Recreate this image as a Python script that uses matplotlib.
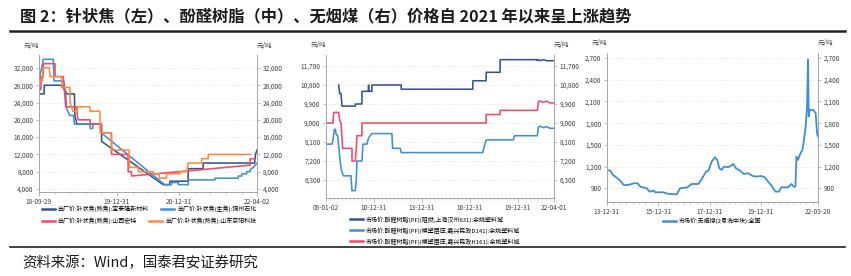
import matplotlib
matplotlib.use('Agg')
import matplotlib.pyplot as plt
import matplotlib.dates as mdates
from matplotlib.lines import Line2D
from matplotlib.ticker import FuncFormatter, FixedLocator
import pandas as pd

plt.rcParams['font.family'] = ['Noto Sans CJK SC', 'DejaVu Sans']
plt.rcParams['axes.unicode_minus'] = False

# ---------------- Panel 1: needle coke ----------------
p1_labels = ['出厂价:针状焦(熟焦):宝泰隆新材料', '出厂价:针状焦(生焦):锦州石化',
             '出厂价:针状焦(熟焦):山西宏特', '出厂价:针状焦(熟焦):山东京阳科技']
p1_xticks = ['2018-09-29', '2019-12-31', '2020-12-31', '2022-04-02']
p1_yticks = [4000, 8000, 12000, 16000, 20000, 24000, 28000, 32000]

btl_dates = ['2018-09-29', '2018-10-29', '2018-10-30', '2019-02-10', '2019-02-25', '2019-03-12',
             '2019-04-25', '2019-04-28', '2019-05-10', '2019-09-30', '2019-10-02', '2020-09-28',
             '2020-11-05', '2020-11-06', '2021-02-21', '2021-02-22', '2021-05-20', '2021-05-21',
             '2022-03-19', '2022-03-24', '2022-04-02']
btl_vals = [26000, 26000, 28000, 28000, 27000, 26000,
            26000, 21000, 19000, 19000, 15000, 5000,
            5000, 5800, 5800, 8700, 8700, 10000,
            10000, 12000, 13000]

jz_dates = ['2018-09-29', '2018-10-06', '2018-10-20', '2018-10-24', '2018-12-22', '2018-12-26',
            '2019-02-20', '2019-03-05', '2019-03-10', '2019-03-30', '2019-04-20', '2019-04-25',
            '2019-07-25', '2019-07-27', '2019-08-10', '2019-08-12', '2019-09-27', '2019-09-29',
            '2020-10-07', '2020-11-15', '2020-11-16', '2020-12-25', '2020-12-26', '2021-02-22',
            '2021-02-23', '2021-07-29', '2021-07-30', '2021-12-13', '2021-12-14', '2022-01-02',
            '2022-01-03', '2022-01-31', '2022-02-01', '2022-02-20', '2022-02-21', '2022-03-12',
            '2022-04-02']
jz_vals = [29000, 30500, 33000, 34000, 34000, 29000,
           29000, 26000, 22500, 21000, 21000, 19000,
           19000, 18000, 18000, 19000, 19000, 17000,
           5000, 5000, 5500, 5500, 5000, 5000,
           6100, 6100, 6500, 6500, 7000, 7000,
           7500, 7500, 8000, 8000, 8500, 9000,
           10000]

sx_dates = ['2018-09-29', '2018-10-10', '2018-10-11', '2018-10-24', '2018-10-25', '2019-01-01',
            '2019-01-02', '2019-02-19', '2019-03-05', '2019-05-08', '2019-05-12', '2019-05-18',
            '2019-07-26', '2019-07-27', '2019-10-01', '2019-10-02', '2019-11-28', '2019-11-29',
            '2020-03-05', '2020-03-06', '2020-03-25', '2020-03-26', '2022-02-20', '2022-02-21',
            '2022-03-21']
sx_vals = [27000, 27000, 30000, 30000, 33000, 33000,
           30000, 30000, 23000, 23000, 21000, 20000,
           20000, 19000, 19000, 17000, 17000, 12000,
           12000, 8000, 8000, 7000, 9500, 11000,
           11000]

sd_dates = ['2018-10-05', '2018-10-20', '2018-10-21', '2018-11-29', '2018-12-03', '2019-02-09',
            '2019-02-10', '2019-03-30', '2019-03-31', '2019-04-15', '2019-05-12', '2019-05-13',
            '2019-07-25', '2019-07-26', '2019-09-22', '2019-09-23', '2019-11-29', '2019-11-30',
            '2020-03-12', '2020-03-13', '2020-05-04', '2020-05-05', '2020-07-31', '2020-08-01',
            '2020-09-04', '2020-09-05', '2020-10-17', '2020-10-18', '2021-01-03', '2021-01-04',
            '2021-02-15', '2021-02-21', '2021-05-11', '2021-05-12', '2021-06-19', '2021-06-20',
            '2022-02-22']
sd_vals = [29000, 29000, 32000, 32000, 30000, 30000,
           27500, 27500, 24000, 22000, 22000, 23000,
           23000, 22000, 22000, 17000, 17000, 13000,
           13000, 9000, 9000, 8000, 8000, 7500,
           7500, 6500, 6500, 7500, 7500, 8000,
           8000, 10000, 10000, 11000, 11000, 12000,
           12000]

# ---------------- Panel 2: phenolic resin ----------------
p2_labels = ['市场价:酚醛树脂(PF)(阻燃,上海汉州631):余姚塑料城',
             '市场价:酚醛树脂(PF)(模塑层压,嘉兴民政D141):余姚塑料城',
             '市场价:酚醛树脂(PF)(模塑层压,嘉兴民政H161):余姚塑料城']
p2_xticks = ['2008-01-02', '2010-12-31', '2013-12-31', '2016-12-31', '2019-12-31', '2022-04-01']
p2_yticks = [6300, 7200, 8100, 9000, 9900, 10800, 11700]

hz_dates = ['2008-10-17', '2008-11-08', '2008-12-09', '2009-01-01', '2009-11-01', '2009-11-02',
            '2010-04-01', '2010-04-02', '2010-08-30', '2010-08-31', '2010-09-01', '2010-11-14',
            '2010-11-15', '2012-09-13', '2012-09-14', '2017-03-05', '2017-03-06', '2018-01-03',
            '2018-01-04', '2018-11-18', '2018-11-19', '2021-03-02', '2021-03-17', '2021-04-09',
            '2021-05-17', '2021-08-01', '2021-10-16', '2021-12-31', '2022-04-01']
hz_vals = [10800, 10400, 10400, 9800, 9800, 9900,
           9900, 10500, 10500, 10800, 10500, 10500,
           10800, 10800, 10600, 10600, 11000, 11000,
           11400, 11400, 12000, 12000, 11950, 12000,
           11950, 12000, 11950, 11950, 11950]

d141_dates = ['2008-01-02', '2008-05-18', '2008-06-10', '2008-07-10', '2008-08-02', '2008-08-24',
              '2008-09-24', '2008-10-17', '2008-11-24', '2009-01-01', '2009-02-08', '2009-07-25',
              '2009-08-16', '2009-10-31', '2009-11-23', '2009-12-08', '2010-04-01', '2010-04-24',
              '2010-07-24', '2010-08-31', '2010-11-15', '2012-02-14', '2012-03-01', '2012-08-22',
              '2012-09-14', '2017-10-19', '2017-11-03', '2018-01-03', '2019-09-18', '2019-10-10',
              '2021-03-17', '2021-04-09', '2021-05-17', '2021-08-01', '2021-10-16', '2021-12-31',
              '2022-04-01']
d141_vals = [8000, 8000, 8200, 8700, 8700, 8450,
             8400, 7900, 7100, 6650, 6500, 6500,
             5800, 5800, 6300, 7200, 7200, 8000,
             8000, 8300, 8500, 8500, 7800, 7800,
             7600, 7600, 7750, 8200, 8200, 8400,
             8400, 8800, 8850, 8780, 8830, 8750,
             8750]

h161_dates = ['2008-01-02', '2008-06-10', '2008-06-25', '2008-10-17', '2008-11-08', '2008-12-09',
              '2009-01-16', '2009-08-17', '2009-08-18', '2009-10-31', '2009-11-23', '2009-12-08',
              '2010-03-31', '2010-04-01', '2018-01-03', '2018-01-04', '2018-11-18', '2018-11-19',
              '2021-03-17', '2021-04-09', '2021-05-17', '2021-08-01', '2021-10-16', '2021-12-31',
              '2022-04-01']
h161_vals = [9000, 9000, 9500, 9500, 9150, 9000,
             7800, 7800, 7200, 7200, 7800, 8400,
             8400, 9000, 9000, 9400, 9400, 9600,
             9600, 10000, 10050, 9980, 10030, 9950,
             9950]

# ---------------- Panel 3: anthracite ----------------
p3_label = '市场价:无烟煤(2号洗中块):全国'
p3_xticks = ['2013-12-31', '2015-12-31', '2017-12-31', '2019-12-31', '2022-03-20']
p3_yticks = [900, 1200, 1500, 1800, 2100, 2400, 2700]

ac_dates = ['2013-12-31', '2014-02-16', '2014-03-26', '2014-04-28', '2014-06-14', '2014-08-01',
            '2014-08-24', '2014-11-03', '2015-01-13', '2015-03-11', '2015-04-18', '2015-07-21',
            '2015-08-28', '2015-10-24', '2015-11-16', '2016-03-13', '2016-05-23', '2016-09-18',
            '2016-11-05', '2017-02-17', '2017-04-19', '2017-07-23', '2017-09-08', '2017-11-08',
            '2017-12-11', '2018-01-28', '2018-03-16', '2018-04-18', '2018-05-16', '2018-06-18',
            '2018-07-22', '2018-09-21', '2018-10-24', '2018-12-01', '2019-01-08', '2019-03-05',
            '2019-05-01', '2019-07-02', '2019-09-01', '2019-10-28', '2019-12-28', '2020-02-23',
            '2020-04-10', '2020-05-27', '2020-07-23', '2020-09-08', '2020-10-16', '2021-01-19',
            '2021-03-07', '2021-04-09', '2021-05-03', '2021-05-17', '2021-06-09', '2021-07-03',
            '2021-08-10', '2021-08-29', '2021-09-26', '2021-10-15', '2021-10-29', '2021-11-08',
            '2021-11-22', '2022-01-08', '2022-02-15', '2022-03-06', '2022-03-20']
ac_vals = [1150, 1145, 1085, 1062, 1025, 978,
           946, 946, 969, 969, 923, 900,
           854, 868, 845, 845, 822, 817,
           900, 914, 960, 960, 1025, 1131,
           1140, 1269, 1329, 1292, 1177, 1154,
           1200, 1191, 1209, 1237, 1177, 1145,
           1098, 1108, 1071, 1062, 1071, 1052,
           992, 937, 854, 854, 914, 914,
           960, 923, 923, 1338, 1292, 1362,
           1431, 1546, 1754, 2031, 2677, 1892,
           1985, 1985, 1938, 1661, 1615]

# ---------------- styling ----------------
C_NAVY = '#34558f'
C_LBLUE = '#3f8fd5'
C_RED = '#ef4a68'
C_ORANGE = '#fd8a3c'
GRAY = '#a6a6a6'
TXT = '#404040'
FS_TICK = 4.7
FS_LEG = 4.3

W, H = 851, 276
fig = plt.figure(figsize=(W / 100, H / 100), dpi=100)


def fbox(l, t, r, b):
    return [l / W, (H - b) / H, (r - l) / W, (b - t) / H]


def style_axes(ax, yticks, ylim, xticks, xlim):
    ax.set_ylim(*ylim)
    ax.set_xlim(pd.Timestamp(xlim[0]), pd.Timestamp(xlim[1]))
    ax.yaxis.set_major_locator(FixedLocator(yticks))
    ax.yaxis.set_major_formatter(FuncFormatter(lambda v, p: f'{v:,.0f}'))
    ax.set_xticks(pd.to_datetime(xticks))
    ax.xaxis.set_major_formatter(mdates.DateFormatter('%y-%m-%d'))
    ax.xaxis.set_minor_locator(mdates.MonthLocator(bymonth=[1, 4, 7, 10]))
    for s in ['left', 'right', 'bottom']:
        ax.spines[s].set_color(GRAY)
        ax.spines[s].set_linewidth(0.7)
    ax.spines['top'].set_visible(False)
    ax.tick_params(axis='y', which='both', left=True, right=True, labelleft=True, labelright=True,
                   direction='out', length=2.5, width=0.5, color=GRAY, labelsize=FS_TICK,
                   labelcolor=TXT, pad=1.5)
    ax.tick_params(axis='x', which='major', direction='out', length=3, width=0.5, color=GRAY,
                   labelsize=FS_TICK, labelcolor=TXT, pad=1.5)
    ax.tick_params(axis='x', which='minor', direction='out', length=1.5, width=0.4, color=GRAY)
    ax.grid(axis='y', color='#d9d9d9', linestyle=(0, (1, 1.5)), linewidth=0.5)
    ax.set_axisbelow(True)
    ax.text(0, 1.04, '元/吨', transform=ax.transAxes, ha='right', va='bottom', fontsize=FS_TICK, color=TXT)
    ax.text(1, 1.04, '元/吨', transform=ax.transAxes, ha='left', va='bottom', fontsize=FS_TICK, color=TXT)


LW = 1.15

# Panel 1
ax1 = fig.add_axes(fbox(39, 55, 257, 192))
l1, = ax1.plot(pd.to_datetime(btl_dates), btl_vals, color=C_NAVY, lw=LW)
l2, = ax1.plot(pd.to_datetime(jz_dates), jz_vals, color=C_LBLUE, lw=LW)
l3, = ax1.plot(pd.to_datetime(sx_dates), sx_vals, color=C_RED, lw=LW)
l4, = ax1.plot(pd.to_datetime(sd_dates), sd_vals, color=C_ORANGE, lw=LW)
style_axes(ax1, p1_yticks, (3300, 35000), p1_xticks, (p1_xticks[0], p1_xticks[-1]))

legkw = dict(frameon=False, fontsize=FS_LEG, handlelength=2.2, handletextpad=0.5,
             borderpad=0, borderaxespad=0, columnspacing=2.0)
lg1 = fig.legend([l1, l2], p1_labels[:2], loc='center', bbox_to_anchor=(149 / W, 1 - 209 / H), ncol=2, **legkw)
for h in lg1.legend_handles:
    h.set_linewidth(1.8)
lg2 = fig.legend([l3, l4], p1_labels[2:], loc='center', bbox_to_anchor=(149 / W, 1 - 221 / H), ncol=2, **legkw)
for h in lg2.legend_handles:
    h.set_linewidth(1.8)

# Panel 2
ax2 = fig.add_axes(fbox(326, 55, 554, 198))
m1, = ax2.plot(pd.to_datetime(hz_dates), hz_vals, color=C_NAVY, lw=LW)
m2, = ax2.plot(pd.to_datetime(d141_dates), d141_vals, color=C_LBLUE, lw=LW)
m3, = ax2.plot(pd.to_datetime(h161_dates), h161_vals, color=C_RED, lw=LW)
style_axes(ax2, p2_yticks, (5450, 12220), p2_xticks, (p2_xticks[0], p2_xticks[-1]))
lg3 = fig.legend([m1, m2, m3], p2_labels, loc='upper left', bbox_to_anchor=(350 / W, 1 - 216 / H),
                 ncol=1, labelspacing=0.75, **legkw)
for h in lg3.legend_handles:
    h.set_linewidth(1.8)

# Panel 3
ax3 = fig.add_axes(fbox(607, 53, 818, 201.7))
n1, = ax3.plot(pd.to_datetime(ac_dates), ac_vals, color=C_LBLUE, lw=1.3)
style_axes(ax3, p3_yticks, (715, 2770), p3_xticks, (p3_xticks[0], p3_xticks[-1]))
lg4 = fig.legend([n1], [p3_label], loc='center', bbox_to_anchor=(712 / W, 1 - 221 / H), ncol=1, **legkw)
for h in lg4.legend_handles:
    h.set_linewidth(1.8)

# Title, separators and source
fig.text(20 / W, 1 - 16 / H, '图 2：针状焦（左）、酚醛树脂（中）、无烟煤（右）价格自 2021 年以来呈上涨趋势',
         ha='left', va='center', fontsize=11.7, fontweight='bold', color='#1a1a1a')
fig.add_artist(Line2D([10 / W, 845 / W], [1 - 31 / H, 1 - 31 / H], color='#222222', lw=1.8))
fig.add_artist(Line2D([10 / W, 845 / W], [1 - 247 / H, 1 - 247 / H], color='#222222', lw=1.2))
fig.text(22 / W, 1 - 263 / H, '资料来源：Wind，国泰君安证券研究', ha='left', va='center',
         fontsize=10.4, color='#1a1a1a')

fig.savefig('out.png', dpi=100)
